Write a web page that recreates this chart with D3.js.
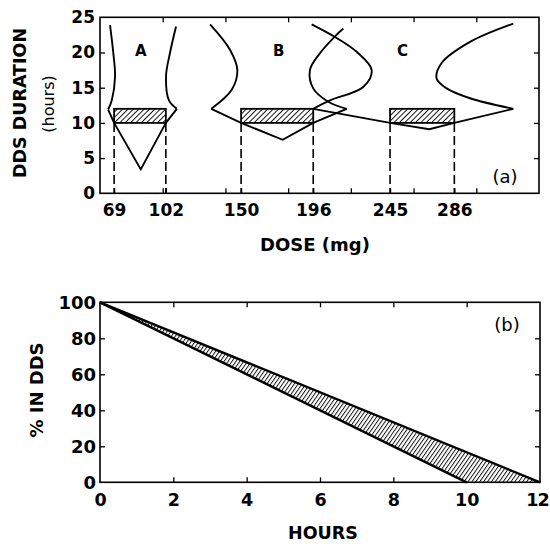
<!DOCTYPE html>
<html><head><meta charset="utf-8">
<script src="https://cdn.jsdelivr.net/npm/d3@7/dist/d3.min.js"></script>
<style>body{margin:0;background:#fff}text{font-family:"DejaVu Sans",sans-serif;fill:#000}</style>
</head><body>
<script>
// ---------- Panel (a) data ----------
const doseTickLabels = [69, 102, 150, 196, 245, 286];
const doseMinorTicks = [100, 140, 180, 220, 260, 300];
const durationTicks = [0, 5, 10, 15, 20, 25];
const groupNames = ["A", "B", "C"];
const groupLabelDose = [86, 174, 253];
const rectLowDose = [69, 150, 245];
const rectHighDose = [102, 196, 286];
const rectMinHours = 10, rectMaxHours = 12;
// smooth boundary curves [dose, hours]
const curveALeft = [[66.4,23.9],[68.5,19.9],[69.6,16.6],[67.5,13.2],[65.2,11.9]];
const curveARight = [[108.5,23.7],[104.6,19.9],[102.1,16.6],[104,13.2],[109,12]];
const curveBLeft = [[130.2,24],[142.9,20.4],[147.6,17.5],[144,14.7],[131,12]];
const curveBAlpha = [[195,24],[209.9,22.2],[223.7,20.1],[233.3,17.5],[227.9,15.1],[206.7,13.2],[196,12]];
const curveBBeta = [[215.2,23.4],[209.9,22.3],[200.3,19.9],[193.9,17.5],[196,14.9],[205.6,13],[217.3,12]];
const curveC = [[323.6,12],[296,13.5],[281.1,14.9],[274.7,16.3],[277.9,18.5],[296,21.5],[323.6,24.1]];
// straight segments [dose, hours]
const segALeft = [[65.2,11.9],[69,10]];
const segARight = [[109,12],[102,10]];
const segALower = [[69,10],[86,3.4],[102,10]];
const segBLower = [[131,12],[150,10],[176.5,7.6],[196,10],[217.3,12]];
const segBtoC = [[196,12],[245,10]];
const segCLower = [[245,10],[270,9.1],[286,10],[323.6,12]];

// ---------- Panel (b) data ----------
const hourTicks = [0, 2, 4, 6, 8, 10, 12];
const pctTicks = [0, 20, 40, 60, 80, 100];
const upperHours = [0, 12], upperPct = [100, 0];
const lowerHours = [0, 10], lowerPct = [100, 0];

const W = 550, H = 544;
const svg = d3.select("body").append("svg").attr("width", W).attr("height", H);
const defs = svg.append("defs");
function hatch(id, size, angle) {
  const p = defs.append("pattern").attr("id", id).attr("patternUnits", "userSpaceOnUse")
    .attr("width", size).attr("height", size).attr("patternTransform", `rotate(${angle})`);
  p.append("rect").attr("width", size).attr("height", size).attr("fill", "#fff");
  p.append("line").attr("x1", 0.5).attr("x2", 0.5).attr("y1", 0).attr("y2", size)
    .attr("stroke", "#000").attr("stroke-width", 0.9);
}
hatch("hatchA", 3.8, 45);
hatch("hatchB", 3.2, 35);

// ---------- Panel (a) ----------
const xa = d3.scaleLinear().domain([60, 340]).range([100, 539]);
const ya = d3.scaleLinear().domain([0, 25]).range([193.3, 17.3]);
const ga = svg.append("g");

function innerAxis(g, axis) { g.call(axis); g.selectAll(".domain").remove(); g.selectAll("text").remove(); g.selectAll("line").attr("stroke-width", 1.3); }
innerAxis(ga.append("g").attr("transform", `translate(0,${ya(0)})`), d3.axisBottom(xa).tickValues(doseTickLabels.concat(doseMinorTicks)).tickSize(-5));
innerAxis(ga.append("g").attr("transform", `translate(0,${ya(25)})`), d3.axisTop(xa).tickValues(doseMinorTicks).tickSize(-5));
innerAxis(ga.append("g").attr("transform", `translate(${xa(60)},0)`), d3.axisLeft(ya).tickValues([5,10,15,20]).tickSize(-5));
innerAxis(ga.append("g").attr("transform", `translate(${xa(340)},0)`), d3.axisRight(ya).tickValues([5,10,15,20]).tickSize(-5));

const xLab = ga.append("g").attr("transform", `translate(0,${ya(0)})`)
  .call(d3.axisBottom(xa).tickValues(doseTickLabels).tickSize(0).tickPadding(11));
xLab.select(".domain").remove();
xLab.selectAll("text").attr("font-size", 17).attr("font-weight", "bold").attr("font-family", "DejaVu Sans");
const yLab = ga.append("g").attr("transform", `translate(${xa(60)},0)`)
  .call(d3.axisLeft(ya).tickValues(durationTicks).tickSize(0).tickPadding(5));
yLab.select(".domain").remove();
yLab.selectAll("text").attr("font-size", 17).attr("font-weight", "bold").attr("font-family", "DejaVu Sans");

ga.append("rect").attr("x", xa(60)).attr("y", ya(25)).attr("width", xa(340) - xa(60)).attr("height", ya(0) - ya(25))
  .attr("fill", "none").attr("stroke", "#000").attr("stroke-width", 1.6);

// dashed verticals
rectLowDose.concat(rectHighDose).forEach(d => {
  ga.append("line").attr("x1", xa(d)).attr("x2", xa(d)).attr("y1", ya(rectMinHours)).attr("y2", ya(0))
    .attr("stroke", "#000").attr("stroke-width", 1.6).attr("stroke-dasharray", "9,4");
});
// hatched rects
rectLowDose.forEach((d, i) => {
  ga.append("rect").attr("x", xa(d)).attr("y", ya(rectMaxHours)).attr("width", xa(rectHighDose[i]) - xa(d))
    .attr("height", ya(rectMinHours) - ya(rectMaxHours)).attr("fill", "url(#hatchA)").attr("stroke", "#000").attr("stroke-width", 1.8);
});
const smooth = d3.line().x(d => xa(d[0])).y(d => ya(d[1])).curve(d3.curveCatmullRom.alpha(0.5));
const straight = d3.line().x(d => xa(d[0])).y(d => ya(d[1]));
[curveALeft, curveARight, curveBLeft, curveBAlpha, curveBBeta, curveC].forEach(c => {
  ga.append("path").attr("d", smooth(c)).attr("fill", "none").attr("stroke", "#000").attr("stroke-width", 1.9);
});
[segALeft, segARight, segALower, segBLower, segBtoC, segCLower].forEach(c => {
  ga.append("path").attr("d", straight(c)).attr("fill", "none").attr("stroke", "#000").attr("stroke-width", 1.9).attr("stroke-linejoin", "miter");
});
groupNames.forEach((n, i) => {
  ga.append("text").attr("x", xa(groupLabelDose[i])).attr("y", ya(20.3)).attr("dy", "0.36em").attr("text-anchor", "middle")
    .attr("font-size", 15).attr("font-weight", "bold").text(n);
});
ga.append("text").attr("x", 505).attr("y", 177).attr("dy", "0.36em").attr("text-anchor", "middle").attr("font-size", 18).text("(a)");
ga.append("text").attr("x", 315).attr("y", 245).attr("dy", "0.36em").attr("text-anchor", "middle").attr("font-size", 18).attr("font-weight", "bold").text("DOSE (mg)");
ga.append("text").attr("transform", "translate(20,103) rotate(-90)").attr("dy", "0.36em").attr("text-anchor", "middle").attr("font-size", 17.5).attr("font-weight", "bold").text("DDS DURATION");
ga.append("text").attr("transform", "translate(48,104) rotate(-90)").attr("dy", "0.36em").attr("text-anchor", "middle").attr("font-size", 16).text("(hours)");

// ---------- Panel (b) ----------
const xb = d3.scaleLinear().domain([0, 12]).range([100, 540]);
const yb = d3.scaleLinear().domain([0, 100]).range([482.3, 302.3]);
const gb = svg.append("g");
innerAxis(gb.append("g").attr("transform", `translate(0,${yb(0)})`), d3.axisBottom(xb).tickValues(hourTicks.slice(1, -1)).tickSize(-5));
innerAxis(gb.append("g").attr("transform", `translate(0,${yb(100)})`), d3.axisTop(xb).tickValues(hourTicks.slice(1, -1)).tickSize(-5));
innerAxis(gb.append("g").attr("transform", `translate(${xb(0)},0)`), d3.axisLeft(yb).tickValues(pctTicks.slice(1, -1)).tickSize(-5));
innerAxis(gb.append("g").attr("transform", `translate(${xb(12)},0)`), d3.axisRight(yb).tickValues(pctTicks.slice(1, -1)).tickSize(-5));

const xbLab = gb.append("g").attr("transform", `translate(0,${yb(0)})`)
  .call(d3.axisBottom(xb).tickValues(hourTicks).tickSize(0).tickPadding(11));
xbLab.select(".domain").remove();
xbLab.selectAll("text").attr("font-size", 17.5).attr("font-weight", "bold").attr("font-family", "DejaVu Sans")
  .attr("letter-spacing", d => d === 12 ? -1 : 0)
  .attr("dx", d => d === 12 ? -3 : 0);
const ybLab = gb.append("g").attr("transform", `translate(${xb(0)},0)`)
  .call(d3.axisLeft(yb).tickValues(pctTicks).tickSize(0).tickPadding(4));
ybLab.select(".domain").remove();
ybLab.selectAll("text").attr("font-size", 18).attr("font-weight", "bold").attr("font-family", "DejaVu Sans");

const band = [[upperHours[0], upperPct[0]], [upperHours[1], upperPct[1]], [lowerHours[1], lowerPct[1]]];
gb.append("path").attr("d", d3.line().x(d => xb(d[0])).y(d => yb(d[1]))(band) + "Z").attr("fill", "url(#hatchB)").attr("stroke", "none");
gb.append("rect").attr("x", xb(0)).attr("y", yb(100)).attr("width", xb(12) - xb(0)).attr("height", yb(0) - yb(100))
  .attr("fill", "none").attr("stroke", "#000").attr("stroke-width", 1.6);
[[upperHours, upperPct], [lowerHours, lowerPct]].forEach(([hs, ps]) => {
  gb.append("line").attr("x1", xb(hs[0])).attr("y1", yb(ps[0])).attr("x2", xb(hs[1])).attr("y2", yb(ps[1]))
    .attr("stroke", "#000").attr("stroke-width", 2.4);
});
gb.append("text").attr("x", 507).attr("y", 325).attr("dy", "0.36em").attr("text-anchor", "middle").attr("font-size", 18).text("(b)");
gb.append("text").attr("x", 323).attr("y", 533).attr("dy", "0.36em").attr("text-anchor", "middle").attr("font-size", 17.5).attr("font-weight", "bold").text("HOURS");
gb.append("text").attr("transform", "translate(37,390) rotate(-90)").attr("dy", "0.36em").attr("text-anchor", "middle").attr("font-size", 18).attr("font-weight", "bold").text("% IN DDS");
</script>
</body></html>
